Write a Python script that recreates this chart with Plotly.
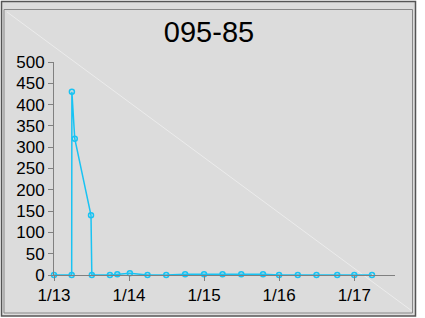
import plotly.graph_objects as go

dates = ["2013-01-01", "2013-03-28", "2013-03-29", "2013-04-12", "2013-06-30", "2013-07-04",
         "2013-09-30", "2013-11-05", "2014-01-05", "2014-04-01", "2014-07-01", "2014-10-01",
         "2015-01-01", "2015-04-01", "2015-07-01", "2015-10-15", "2016-01-01", "2016-04-01",
         "2016-07-01", "2016-10-10", "2017-01-01", "2017-03-28"]
values = [0, 0, 430, 320, 140, 0, 0, 2, 4, 0, 0, 2, 2, 2, 2, 2, 0, 0, 0, 0, 0, 0]
title_text = "095-85"
tick_vals = ["2013-01-01", "2014-01-01", "2015-01-01", "2016-01-01", "2017-01-01"]
tick_text = ["1/13", "1/14", "1/15", "1/16", "1/17"]
y_ticks = [0, 50, 100, 150, 200, 250, 300, 350, 400, 450, 500]

W, H = 425, 318
def px(x):
    return x / W
def py(y):
    return 1 - y / H

line_color = "#19c3f3"

fig = go.Figure()
fig.add_trace(go.Scatter(
    x=dates, y=values, mode="lines+markers",
    line=dict(color=line_color, width=1.5),
    marker=dict(symbol="circle-open", size=5, color=line_color, line=dict(width=1.5, color=line_color)),
    showlegend=False, cliponaxis=False,
))

fig.update_layout(
    width=W, height=H,
    margin=dict(l=0, r=0, t=0, b=0, autoexpand=False),
    paper_bgcolor="white",
    plot_bgcolor="rgba(0,0,0,0)",
    font=dict(family="Liberation Sans, Arial, sans-serif", color="black", size=17),
    title=dict(text=title_text, x=px(209), xanchor="center", y=py(32), yanchor="middle",
               font=dict(size=29, color="black")),
    shapes=[
        dict(type="rect", xref="paper", yref="paper", x0=px(1.5), x1=px(415.5), y0=py(1.5), y1=py(316),
             line=dict(color="#555555", width=1.5), fillcolor="#dcdcdc", layer="below"),
        dict(type="rect", xref="paper", yref="paper", x0=px(4), x1=px(412.5), y0=py(9.5), y1=py(313),
             line=dict(color="#888888", width=1), fillcolor="rgba(0,0,0,0)", layer="below"),
        dict(type="line", xref="paper", yref="paper", x0=px(7), x1=px(412), y0=py(12), y1=py(311),
             line=dict(color="#ececec", width=1), layer="below"),
    ],
    xaxis=dict(
        type="date", domain=[px(54), px(395)], range=["2013-01-01", "2017-07-18"],
        tickvals=tick_vals, ticktext=tick_text, ticks="outside", ticklen=5, tickcolor="#808080",
        showline=True, linecolor="#808080", linewidth=1, showgrid=False, zeroline=False,
        tickfont=dict(size=17), anchor="y", automargin=False,
    ),
    yaxis=dict(
        domain=[py(275), py(62)], range=[0, 500], tickvals=y_ticks,
        ticks="outside", ticklen=5, tickcolor="#808080",
        showline=True, linecolor="#808080", linewidth=1, showgrid=False, zeroline=False,
        tickfont=dict(size=17), anchor="x", automargin=False,
    ),
)

fig.write_html("out.html", config={"displayModeBar": False},
               post_script="document.body.style.margin='0px';document.body.style.overflow='hidden';")
